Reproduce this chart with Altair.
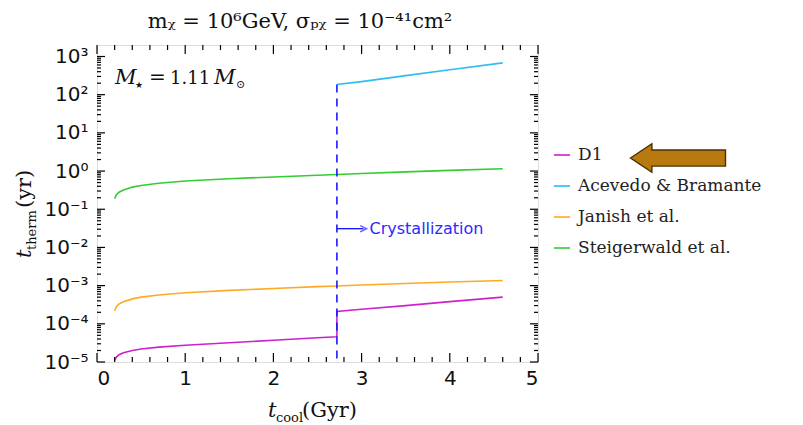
import altair as alt
import pandas as pd

# ---------------- data ----------------
x_common = [0.2, 0.22, 0.25, 0.3, 0.4, 0.5, 0.7, 1.0, 1.5, 2.0, 2.5, 2.72, 3.0, 3.5, 4.0, 4.6]
y_steiger = [0.19, 0.24, 0.28, 0.32, 0.38, 0.42, 0.48, 0.55, 0.63, 0.70, 0.78, 0.81, 0.86, 0.95, 1.04, 1.15]
y_janish = [2.2e-4, 2.8e-4, 3.3e-4, 3.8e-4, 4.5e-4, 5.0e-4, 5.7e-4, 6.5e-4, 7.5e-4, 8.4e-4,
            9.4e-4, 9.8e-4, 1.04e-3, 1.14e-3, 1.24e-3, 1.36e-3]
x_d1 = [0.2, 0.22, 0.25, 0.3, 0.4, 0.5, 0.7, 1.0, 1.5, 2.0, 2.5, 2.72, 2.72, 3.0, 3.5, 4.0, 4.6]
y_d1 = [1.1e-5, 1.35e-5, 1.55e-5, 1.75e-5, 2.0e-5, 2.2e-5, 2.45e-5, 2.75e-5, 3.2e-5, 3.7e-5,
        4.3e-5, 4.6e-5, 2.1e-4, 2.4e-4, 3.0e-4, 3.8e-4, 5.0e-4]
x_acev = [2.72, 3.0, 3.5, 4.0, 4.6]
y_acev = [185, 220, 315, 450, 680]

series_names = ["D1", "Acevedo & Bramante", "Janish et al.", "Steigerwald et al."]
series_colors = ["#cc22cc", "#2ebdf0", "#ffaa22", "#33cc33"]

t_cryst = 2.72
cryst_y = [185, 1e-5]
arrow_x = [2.72, 3.02]
arrow_y = 0.031

y_major = [1e-5, 1e-4, 1e-3, 1e-2, 1e-1, 1e0, 1e1, 1e2, 1e3]
y_labels = ["10⁻⁵", "10⁻⁴", "10⁻³", "10⁻²", "10⁻¹", "10⁰", "10¹", "10²", "10³"]
x_major = [0, 1, 2, 3, 4, 5]

# ---------------- tables ----------------
rows = []
for name, xs, ys in [("D1", x_d1, y_d1), ("Acevedo & Bramante", x_acev, y_acev),
                     ("Janish et al.", x_common, y_janish),
                     ("Steigerwald et al.", x_common, y_steiger)]:
    for i, (a, b) in enumerate(zip(xs, ys)):
        rows.append({"series": name, "x": a, "y": b, "i": i})
df = pd.DataFrame(rows)

W, H = 441, 317
xscale = alt.Scale(domain=[0, 5], nice=False, zero=False)
yscale = alt.Scale(type="log", domain=[1e-5, 2e3], nice=False)

label_expr = "[" + ",".join("'" + s + "'" for s in y_labels) + "][round(log(datum.value)/LN10)+5]"

lines = alt.Chart(df).mark_line(strokeWidth=1.6, clip=True).encode(
    x=alt.X("x:Q", scale=xscale,
            axis=alt.Axis(values=x_major, format="d", title=None, ticks=False, domain=False,
                          grid=False, labelFont="DejaVu Sans", labelFontSize=20,
                          labelColor="#111", labelPadding=6)),
    y=alt.Y("y:Q", scale=yscale,
            axis=alt.Axis(values=y_major, labelExpr=label_expr, title=None, ticks=False,
                          domain=False, grid=False, labelFont="DejaVu Sans", labelFontSize=20,
                          labelColor="#111", labelPadding=9)),
    color=alt.Color("series:N", scale=alt.Scale(domain=series_names, range=series_colors),
                    legend=alt.Legend(title=None, orient="none", legendX=456, legendY=101,
                                      symbolType="stroke", symbolSize=260, symbolStrokeWidth=1.6,
                                      labelFont="DejaVu Serif", labelFontSize=17,
                                      labelColor="#222", rowPadding=14, padding=0,
                                      labelOffset=7, labelLimit=400)),
    order="i:Q",
)

cryst_df = pd.DataFrame({"x": [t_cryst, t_cryst], "y": cryst_y})
cryst = alt.Chart(cryst_df).mark_line(color="#1a1aff", strokeWidth=1.6, strokeDash=[8, 6]).encode(
    x=alt.X("x:Q", scale=xscale), y=alt.Y("y:Q", scale=yscale))

arr_df = pd.DataFrame({"x": arrow_x, "y": [arrow_y, arrow_y]})
arr_line = alt.Chart(arr_df).mark_line(color="#1a1aff", strokeWidth=1.4).encode(
    x=alt.X("x:Q", scale=xscale), y=alt.Y("y:Q", scale=yscale))
head_df = pd.DataFrame({"x": [arrow_x[1]], "y": [arrow_y]})
arr_head = alt.Chart(head_df).mark_point(shape="M -1 -1 L 1 0 L -1 1", filled=False,
                                         color="#1a1aff", size=40, strokeWidth=1.4).encode(
    x=alt.X("x:Q", scale=xscale), y=alt.Y("y:Q", scale=yscale))
txt_df = pd.DataFrame({"x": [3.09], "y": [arrow_y], "t": ["Crystallization"]})
cryst_txt = alt.Chart(txt_df).mark_text(align="left", baseline="middle", font="DejaVu Sans",
                                        fontSize=16, color="#2a2aff").encode(
    x=alt.X("x:Q", scale=xscale), y=alt.Y("y:Q", scale=yscale), text="t:N")

# inward ticks on all four sides
ymin_vals = [k * 10.0 ** n for n in range(-5, 4) for k in range(2, 10) if k * 10.0 ** n < 2e3]
xmin_vals = [round(0.2 * k, 1) for k in range(26) if k % 5 != 0]
ymaj_df = pd.DataFrame({"v": y_major})
ymin_df = pd.DataFrame({"v": ymin_vals})
xmaj_df = pd.DataFrame({"v": x_major})
xmin_df = pd.DataFrame({"v": xmin_vals})


def yt(d, x0, x1):
    return alt.Chart(d).mark_rule(color="black", strokeWidth=1.2).encode(
        y=alt.Y("v:Q", scale=yscale), x=alt.value(x0), x2=alt.value(x1))


def xt(d, y0, y1):
    return alt.Chart(d).mark_rule(color="black", strokeWidth=1.2).encode(
        x=alt.X("v:Q", scale=xscale), y=alt.value(y0), y2=alt.value(y1))


ticks = [yt(ymaj_df, 0, 8), yt(ymin_df, 0, 4), yt(ymaj_df, W, W - 8), yt(ymin_df, W, W - 4),
         xt(xmaj_df, H, H - 9), xt(xmin_df, H, H - 5), xt(xmaj_df, 0, 9), xt(xmin_df, 0, 5)]

one = pd.DataFrame({"a": [0]})


def txt(s, x, y, size, italic=False, font="DejaVu Serif", angle=0, align="left",
        baseline="alphabetic", color="#111"):
    kw = dict(align=align, baseline=baseline, font=font, fontSize=size, color=color)
    if italic:
        kw["fontStyle"] = "italic"
    if angle:
        kw["angle"] = angle
    return alt.Chart(one).mark_text(**kw).encode(
        x=alt.value(x), y=alt.value(y), text=alt.value(s))


# arrow pointing to D1 in the legend
arrow_big = alt.Chart(one).mark_point(
    shape="M -1 0 L -0.55 -0.3 L -0.55 -0.17 L 1 -0.17 L 1 0.17 L -0.55 0.17 L -0.55 0.3 Z",
    filled=True, fill="#b8790f", stroke="#4a3000", strokeWidth=1.4, size=9025, opacity=1
).encode(x=alt.value(581), y=alt.value(113))

texts = [
    # title
    txt("mᵪ = 10⁶GeV,  σₚᵪ = 10⁻⁴¹cm²", 203, -17, 21, align="center"),
    # M_star annotation
    txt("M", 18, 39, 21, italic=True),
    txt("★", 38, 43, 9),
    txt("=", 52, 39, 20),
    txt("1.11", 73, 39, 18),
    txt("M", 117, 39, 21, italic=True),
    txt("⊙", 139, 43, 11),
    # x title
    txt("t", 171, 372, 21, italic=True),
    txt("cool", 179, 377, 13),
    txt("(Gyr)", 205, 372, 21),
    # y title (rotated)
    txt("t", -66, 213, 21, italic=True, angle=270),
    txt("therm", -61, 205, 13, angle=270),
    txt("(yr)", -66, 163, 21, angle=270),
]

chart = alt.layer(lines, cryst, arr_line, arr_head, cryst_txt, *ticks, arrow_big, *texts).properties(
    width=W, height=H,
    autosize=alt.AutoSizeParams(type="none"),
    padding={"left": 97, "top": 45, "right": 803 - 97 - W, "bottom": 425 - 45 - H},
).configure_view(stroke="black", strokeWidth=2).configure(background="white")

chart.save("out.html", embed_options={"renderer": "svg", "actions": False})
